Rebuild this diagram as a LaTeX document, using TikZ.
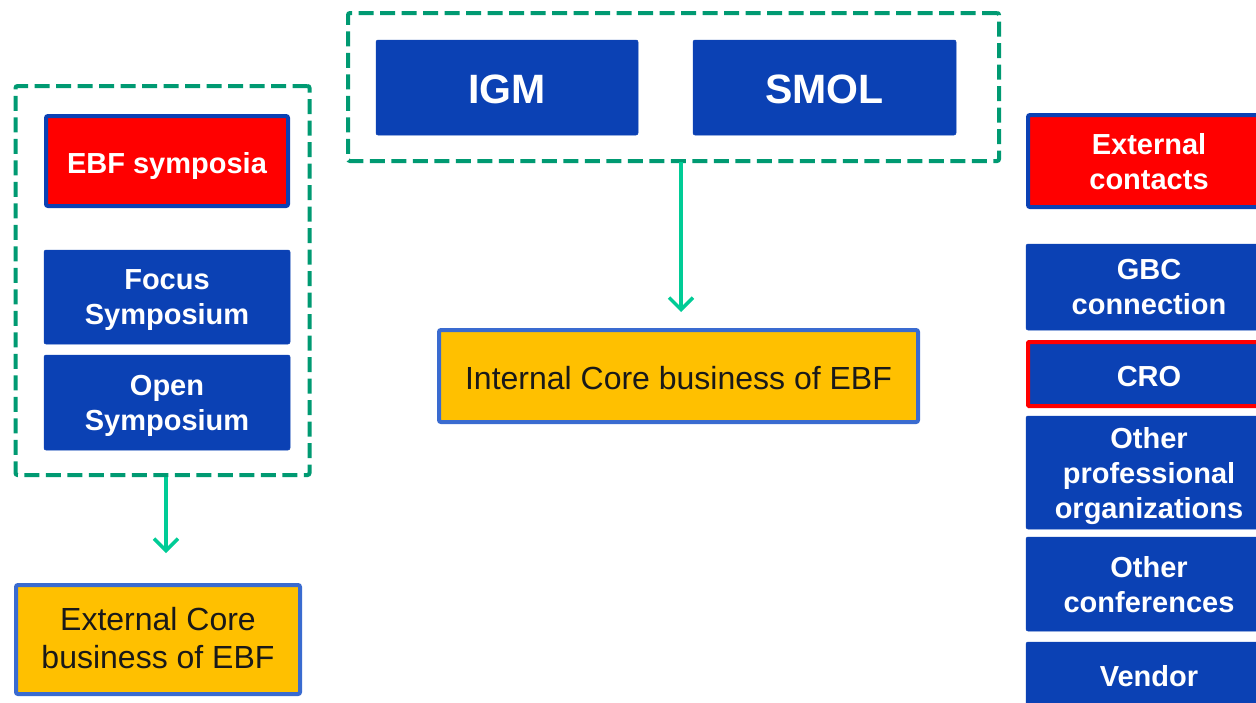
\documentclass[tikz,border=0pt]{standalone}
\usepackage{fontspec}
\setmainfont{Liberation Sans}
\usetikzlibrary{arrows.meta}
\definecolor{cblue}{HTML}{0B41B4}
\definecolor{cframe}{HTML}{3A6BD0}
\definecolor{cgold}{HTML}{FFC000}
\definecolor{cdash}{HTML}{009A72}
\definecolor{carrow}{HTML}{00CC96}
\definecolor{cred}{HTML}{FF0000}
\tikzset{
  every node/.style={inner sep=0pt, outer sep=0pt, align=center},
  bluebox/.style={fill=cblue, draw=cblue, line width=0.5pt, rounded corners=2pt, text=white,
    font=\fontsize{29}{35}\selectfont\bfseries, text depth=0pt},
  redbox/.style={fill=cred, draw=cblue, line width=4pt, rounded corners=2pt, text=white,
    font=\fontsize{29}{35}\selectfont\bfseries, text depth=0pt},
  crobox/.style={fill=cblue, draw=cred, line width=4pt, rounded corners=1pt, text=white,
    font=\fontsize{29}{35}\selectfont\bfseries, text depth=0pt},
  bigbox/.style={fill=cblue, draw=cblue, line width=0.5pt, rounded corners=2pt, text=white,
    font=\fontsize{41}{48}\selectfont\bfseries},
  corebox/.style={fill=cgold, draw=cframe, line width=4pt, rounded corners=2pt, text=black!90,
    font=\fontsize{32}{38}\selectfont},
  groupbox/.style={draw=cdash, line width=4pt, dash pattern=on 15pt off 6.5pt, rounded corners=2pt},
  flow/.style={draw=carrow, line width=3.5pt, -{Straight Barb[length=12pt,width=24pt]}},
}
\newcommand{\lowertxt}[1]{\raisebox{-2pt}[\height][\depth]{#1}}
\begin{document}
\begin{tikzpicture}[x=1pt, y=-1pt]
\useasboundingbox (0,0) rectangle (1256,702);
\clip (0,0) rectangle (1256,702);
\fill[white] (0,0) rectangle (1256,702);

% left group
\node[groupbox, minimum width=294pt, minimum height=389pt] (lgroup) at (162.5,280.5) {};
\node[redbox, minimum width=242pt, minimum height=90pt] (ebf) at (167,161) {\lowertxt{EBF symposia}};
\node[bluebox, minimum width=246pt, minimum height=94pt] (focus) at (167,297) {Focus\\Symposium};
\node[bluebox, minimum width=246pt, minimum height=95pt] (open) at (167,402.5) {Open\\Symposium};
\node[corebox, minimum width=284pt, minimum height=109pt] (extcore) at (158,639.5) {\lowertxt{\begin{tabular}{@{}c@{}}External Core\\[0pt]business of EBF\end{tabular}}};

% top group
\node[groupbox, minimum width=651pt, minimum height=148pt] (tgroup) at (673.5,87) {};
\node[bigbox, minimum width=262pt, minimum height=95pt] (igm) at (507,87.5) {\lowertxt{IGM}};
\node[bigbox, minimum width=263pt, minimum height=95pt] (smol) at (824.5,87.5) {\lowertxt{SMOL}};
\node[corebox, minimum width=479pt, minimum height=92pt] (intcore) at (678.5,376) {\lowertxt{Internal Core business of EBF}};

% right column
\node[redbox, minimum width=242pt, minimum height=92pt] (extc) at (1149,161) {External\\contacts};
\node[bluebox, minimum width=246pt, minimum height=86pt] (gbc) at (1149,287) {GBC\\connection};
\node[crobox, minimum width=242pt, minimum height=64pt] (cro) at (1149,374) {\lowertxt{CRO}};
\node[bluebox, minimum width=246pt, minimum height=113pt] (oprof) at (1149,472.5) {Other\\professional\\organizations};
\node[bluebox, minimum width=246pt, minimum height=94pt] (oconf) at (1149,584) {Other\\conferences};
\node[bluebox, minimum width=246pt, minimum height=68pt] (vendor) at (1149,676) {Vendor};

% arrows
\coordinate (la) at (166,477);
\coordinate (lb) at (166,553);
\draw[flow] (la) -- (lb);
\coordinate (ma) at (681,162);
\coordinate (mb) at (681,312);
\draw[flow] (ma) -- (mb);
\end{tikzpicture}
\end{document}
